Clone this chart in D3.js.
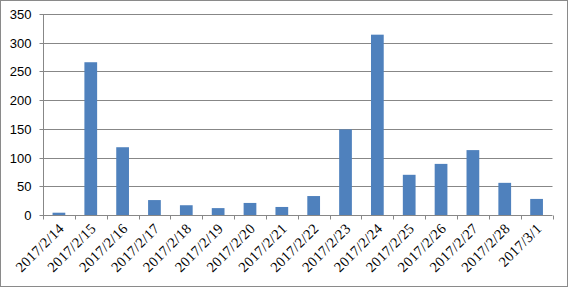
<!DOCTYPE html>
<html>
<head>
<meta charset="utf-8">
<script src="https://cdn.jsdelivr.net/npm/d3@7"></script>
<style>
  body { margin: 0; background: #fff; }
  svg { display: block; }
</style>
</head>
<body>
<svg></svg>
<script>
const dates = ['2017/2/14', '2017/2/15', '2017/2/16', '2017/2/17', '2017/2/18', '2017/2/19',
  '2017/2/20', '2017/2/21', '2017/2/22', '2017/2/23', '2017/2/24', '2017/2/25',
  '2017/2/26', '2017/2/27', '2017/2/28', '2017/3/1'];
const counts = [4, 266, 118, 26, 17, 12, 21, 14, 33, 149, 314, 70, 89, 113, 56, 28];
const yTicks = [0, 50, 100, 150, 200, 250, 300, 350];

const W = 568;
const H = 287;
const m = { top: 14, right: 15.5, bottom: 72, left: 43 };

const svg = d3.select('svg').attr('width', W).attr('height', H);

svg.append('rect')
  .attr('x', 0.5).attr('y', 0.5)
  .attr('width', W - 1).attr('height', H - 1)
  .attr('fill', '#fff')
  .attr('stroke', '#8a8a8a');

const x = d3.scaleBand()
  .domain(dates)
  .range([m.left, W - m.right])
  .paddingInner(0.6)
  .paddingOuter(0.3);

const y = d3.scaleLinear()
  .domain([0, 350])
  .range([H - m.bottom, m.top]);

// gridlines
svg.append('g')
  .selectAll('line')
  .data(yTicks.slice(1))
  .join('line')
  .attr('x1', m.left)
  .attr('x2', W - m.right)
  .attr('y1', d => Math.round(y(d)) + 0.5)
  .attr('y2', d => Math.round(y(d)) + 0.5)
  .attr('stroke', '#878787');

// bars
svg.append('g')
  .selectAll('rect')
  .data(counts)
  .join('rect')
  .attr('x', (d, i) => x(dates[i]))
  .attr('width', x.bandwidth())
  .attr('y', d => y(d))
  .attr('height', d => y(0) - y(d))
  .attr('fill', '#4f81bd');

// y axis
const yAxis = svg.append('g')
  .attr('transform', `translate(${m.left + 0.5},0)`)
  .call(d3.axisLeft(y).tickValues(yTicks).tickSize(4).tickPadding(8));
yAxis.select('.domain').attr('stroke', '#878787').attr('d', `M0,${y(350)}V${y(0)}`);
yAxis.selectAll('.tick line').attr('stroke', '#878787');
yAxis.selectAll('.tick').attr('transform', d => `translate(0,${Math.round(y(d)) + 0.5})`);
yAxis.selectAll('text')
  .attr('fill', '#000')
  .style('font-family', '"Liberation Sans", Arial, sans-serif')
  .style('font-size', '13px');

// x axis
const step = x.step();
const xAxis = svg.append('g')
  .attr('transform', `translate(0,${Math.round(y(0)) + 0.5})`);
xAxis.append('line')
  .attr('x1', m.left).attr('x2', W - m.right)
  .attr('stroke', '#878787');
xAxis.selectAll('.tk')
  .data(d3.range(dates.length + 1))
  .join('line')
  .attr('class', 'tk')
  .attr('x1', i => Math.round(m.left + i * step) + 0.5)
  .attr('x2', i => Math.round(m.left + i * step) + 0.5)
  .attr('y1', 0).attr('y2', 4)
  .attr('stroke', '#878787');
xAxis.selectAll('text')
  .data(dates)
  .join('text')
  .attr('text-anchor', 'end')
  .attr('transform', d => `translate(${x(d) + x.bandwidth() / 2 + 6},${14}) rotate(-45)`)
  .style('font-family', '"Liberation Serif", "Times New Roman", serif')
  .style('font-size', '14.5px')
  .style('letter-spacing', '0.3px')
  .attr('fill', '#000')
  .text(d => d);
</script>
</body>
</html>
